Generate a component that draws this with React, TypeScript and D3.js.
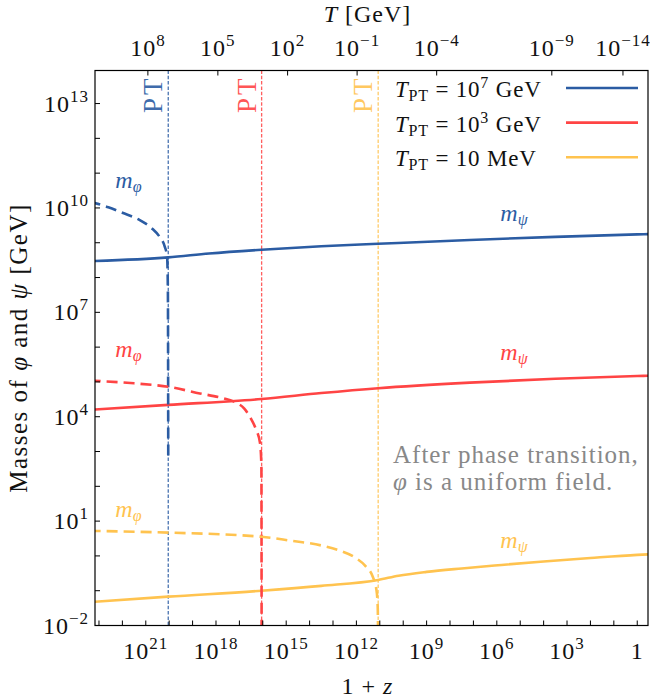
import * as d3 from "d3";

// plot frame (px)
const X0 = 95, X1 = 648, Y0 = 70.5, Y1 = 625.5;

// log10 of (1+z) at the frame edges, left (early) to right (today)
const zDomainExp = [23.17, -0.46];
const mDomainExp = [-2, 13.95];

// bottom axis: decades, labelled every third
const zTickExps = d3.range(0, 24);
const zLabelExps = [21, 18, 15, 12, 9, 6, 3, 0];
// left axis
const mTickExps = d3.range(-2, 14);
const mLabelExps = [13, 10, 7, 4, 1, -2];
// top axis: temperature labels and where they sit in 1+z
const tTickLabels = ["8", "5", "2", "−1", "−4", "−9", "−14"];
const tTickZExp = [20.91, 17.92, 14.94, 11.97, 8.57, 3.65, 0.61];

// phase transitions (log10 of 1+z)
const ptZExp = [20.04, 16.05, 11.07];
const legendLabels = [
  { exp: "7", unit: "GeV", pre: "10" },
  { exp: "3", unit: "GeV", pre: "10" },
  { exp: "", unit: "MeV", pre: "10" },
];
const colors = ["#2b5ca3", "#ff4444", "#ffc34f"];

// masses: [log10(1+z), log10(m/GeV)]
const phiBlue: [number, number][] = [
  [23.4, 10.18], [22.6, 10.02], [22.0, 9.86], [21.26, 9.65], [20.75, 9.42],
  [20.4, 9.16], [20.19, 8.89], [20.09, 8.6], [20.055, 7.6], [20.04, 2.8],
];
const psiBlue: [number, number][] = [
  [23.4, 8.47], [20.04, 8.58], [18.3, 8.69], [16.05, 8.8], [13.5, 8.9],
  [11.07, 8.97], [7.15, 9.08], [3.5, 9.17], [0, 9.24], [-0.6, 9.25],
];
const phiRed: [number, number][] = [
  [23.4, 5.04], [21.5, 4.96], [20.04, 4.86], [18.69, 4.67], [17.7, 4.53],
  [17.19, 4.42], [16.8, 4.24], [16.55, 4.0], [16.3, 3.65], [16.12, 3.25],
  [16.06, 2.6], [16.05, -2.5],
];
const psiRed: [number, number][] = [
  [23.4, 4.2], [20.04, 4.34], [16.05, 4.51], [13.5, 4.68], [11.07, 4.82],
  [7.15, 4.98], [3.5, 5.09], [0, 5.17], [-0.6, 5.18],
];
const phiYellow: [number, number][] = [
  [23.4, 0.72], [20.04, 0.67], [16.05, 0.55], [14.84, 0.44], [13.5, 0.3],
  [12.7, 0.15], [12.05, -0.05], [11.6, -0.3], [11.3, -0.6], [11.15, -0.95],
  [11.09, -1.45], [11.07, -2.5],
];
const psiYellow: [number, number][] = [
  [23.4, -1.33], [20.04, -1.17], [16.05, -1.0], [13.5, -0.86], [11.07, -0.69],
  [10.2, -0.57], [9.0, -0.46], [7.5, -0.36], [5.8, -0.26], [4.0, -0.16],
  [2, -0.06], [0, 0.03], [-0.6, 0.05],
];

const phiSeries = [phiBlue, phiRed, phiYellow];
const psiSeries = [psiBlue, psiRed, psiYellow];
// where the curve names go: [log10(1+z), log10(m)]
const phiLabelPos = [[22.3, 10.57], [22.3, 5.71], [22.3, 1.12]];
const psiLabelPos = [[5.85, 9.62], [5.85, 5.63], [5.85, 0.22]];

const serif = "'Liberation Serif', 'DejaVu Serif', serif";
const fs = 24;
const sup = 17;

export default function App() {
  const x = d3.scaleLog().domain(zDomainExp.map((e) => 10 ** e)).range([X0, X1]);
  const y = d3.scaleLog().domain(mDomainExp.map((e) => 10 ** e)).range([Y1, Y0]);

  const line = d3
    .line<[number, number]>()
    .x((d) => x(10 ** d[0]))
    .y((d) => y(10 ** d[1]))
    .curve(d3.curveMonotoneX);

  const tick = 5;

  return (
    <svg
      width={650}
      height={700}
      style={{ position: "absolute", left: 0, top: 0, background: "#fff" }}
      fontFamily={serif}
    >
      <defs>
        <clipPath id="plot">
          <rect x={X0} y={Y0} width={X1 - X0} height={Y1 - Y0} />
        </clipPath>
      </defs>

      {/* PT markers */}
      {ptZExp.map((e, i) => (
        <g key={"pt" + i}>
          <line
            x1={x(10 ** e)}
            x2={x(10 ** e)}
            y1={Y0}
            y2={Y1}
            stroke={colors[i]}
            strokeWidth={1.3}
            strokeDasharray="3.5,1.8"
            opacity={0.85}
          />
          <text
            transform={`translate(${x(10 ** e) - 6},${Y0 + 5}) rotate(-90)`}
            textAnchor="end"
            fontSize={27}
            letterSpacing={3}
            fill={colors[i]}
            opacity={0.9}
          >
            PT
          </text>
        </g>
      ))}

      {/* curves */}
      <g clipPath="url(#plot)" fill="none" strokeWidth={2.6}>
        {psiSeries.map((s, i) => (
          <path key={"psi" + i} d={line(s) ?? ""} stroke={colors[i]} />
        ))}
        {phiSeries.map((s, i) => (
          <path
            key={"phi" + i}
            d={line(s) ?? ""}
            stroke={colors[i]}
            strokeDasharray="11,6"
          />
        ))}
      </g>

      {/* curve names */}
      {phiLabelPos.map((p, i) => (
        <text
          key={"lphi" + i}
          x={x(10 ** p[0])}
          y={y(10 ** p[1])}
          fill={colors[i]}
          fontSize={24}
          fontStyle="italic"
        >
          m
          <tspan fontSize={16} dy={4}>
            φ
          </tspan>
        </text>
      ))}
      {psiLabelPos.map((p, i) => (
        <text
          key={"lpsi" + i}
          x={x(10 ** p[0])}
          y={y(10 ** p[1])}
          fill={colors[i]}
          fontSize={24}
          fontStyle="italic"
        >
          m
          <tspan fontSize={16} dy={4}>
            ψ
          </tspan>
        </text>
      ))}

      {/* annotation */}
      <g fontSize={25} letterSpacing={1} fill="#888">
        <text x={393} y={463}>
          After phase transition,
        </text>
        <text x={393} y={490}>
          <tspan fontStyle="italic">φ</tspan> is a uniform field.
        </text>
      </g>

      {/* legend */}
      {legendLabels.map((l, i) => {
        const ly = 88 + i * 34.6;
        return (
          <g key={"leg" + i}>
            <line x1={566} x2={638} y1={ly} y2={ly} stroke={colors[i]} strokeWidth={2.6} />
            <text x={395} y={ly + 9} fontSize={23} letterSpacing={0.8} fill="#111">
              <tspan fontStyle="italic">T</tspan>
              <tspan fontSize={16} dy={4}>
                PT
              </tspan>
              <tspan dy={-4}> = {l.pre}</tspan>
              {l.exp ? (
                <>
                  <tspan fontSize={16} dy={-9}>
                    {l.exp}
                  </tspan>
                  <tspan dy={9}> {l.unit}</tspan>
                </>
              ) : (
                <tspan> {l.unit}</tspan>
              )}
            </text>
          </g>
        );
      })}

      {/* frame */}
      <rect x={X0} y={Y0} width={X1 - X0} height={Y1 - Y0} fill="none" stroke="#000" strokeWidth={1.2} />

      {/* bottom axis */}
      {zTickExps.map((e) => (
        <line key={"zt" + e} x1={x(10 ** e)} x2={x(10 ** e)} y1={Y1} y2={Y1 - tick} stroke="#000" />
      ))}
      {zLabelExps.map((e) => (
        <text key={"zl" + e} x={x(10 ** e)} y={659} textAnchor="middle" fontSize={fs} letterSpacing={1} fill="#111">
          {e === 0 ? (
            "1"
          ) : (
            <>
              10
              <tspan fontSize={sup} dy={-10}>
                {e}
              </tspan>
            </>
          )}
        </text>
      ))}
      <text x={(X0 + X1) / 2 - 4} y={694} textAnchor="middle" fontSize={24} letterSpacing={1} fill="#111">
        1 + <tspan fontStyle="italic">z</tspan>
      </text>

      {/* left axis */}
      {mTickExps.map((e) => (
        <line key={"mt" + e} x1={X0} x2={X0 + tick} y1={y(10 ** e)} y2={y(10 ** e)} stroke="#000" />
      ))}
      {mLabelExps.map((e) => (
        <text key={"ml" + e} x={89} y={y(10 ** e) + 8} textAnchor="end" fontSize={fs} letterSpacing={1} fill="#111">
          10
          <tspan fontSize={sup} dy={-10}>
            {e < 0 ? "−" + -e : e}
          </tspan>
        </text>
      ))}
      <text
        transform={`translate(27,${(Y0 + Y1) / 2}) rotate(-90)`}
        textAnchor="middle"
        fontSize={25}
        letterSpacing={1.5}
        fill="#111"
      >
        Masses of <tspan fontStyle="italic">φ</tspan> and <tspan fontStyle="italic">ψ</tspan> [GeV]
      </text>

      {/* top axis */}
      {tTickZExp.map((e, i) => (
        <g key={"tt" + i}>
          <line x1={x(10 ** e)} x2={x(10 ** e)} y1={Y0} y2={Y0 + tick} stroke="#000" />
          <text x={x(10 ** e)} y={56} textAnchor="middle" fontSize={fs} letterSpacing={1} fill="#111">
            10
            <tspan fontSize={sup} dy={-10}>
              {tTickLabels[i]}
            </tspan>
          </text>
        </g>
      ))}
      <text x={(X0 + X1) / 2 - 4} y={22} textAnchor="middle" fontSize={24} letterSpacing={1} fill="#111">
        <tspan fontStyle="italic">T</tspan> [GeV]
      </text>
    </svg>
  );
}
